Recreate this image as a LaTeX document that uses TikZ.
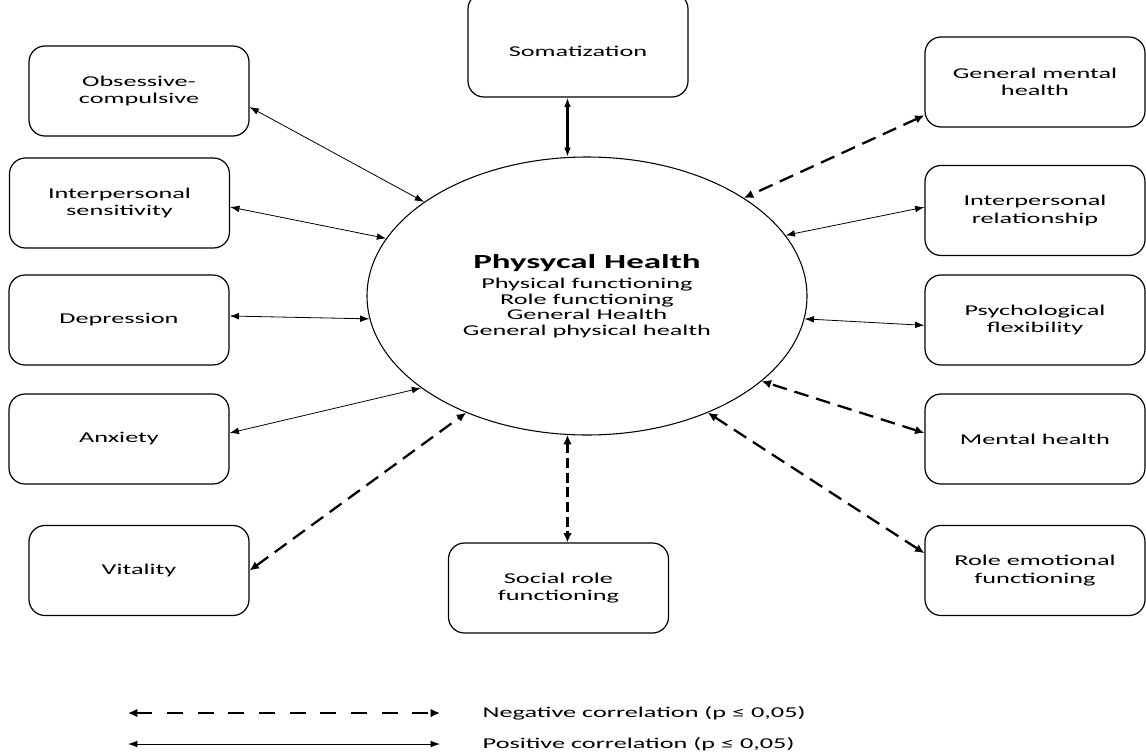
\documentclass[tikz,border=0pt]{standalone}
\usepackage{fontspec}
\setmainfont[FakeStretch=1.75]{Carlito}
\usetikzlibrary{shapes.geometric,arrows.meta}

\begin{document}
\begin{tikzpicture}[x=0.75pt, y=-0.75pt,
	font=\fontsize{11.25}{13}\selectfont,
	box/.style={draw, line width=0.9pt, rounded corners=12pt, minimum width=165pt, minimum height=67.5pt, align=center, inner sep=2pt},
	poscorr/.style={<->, >={Latex[length=7pt,width=5pt]}, line width=0.6pt},
	negcorr/.style={<->, >={Latex[length=7pt,width=6.5pt]}, line width=1.7pt, dash pattern=on 11pt off 6pt}]
	\useasboundingbox (0,0) rectangle (1146,753);
	\node[draw, ellipse, line width=0.8pt, minimum width=330pt, minimum height=208.5pt, inner sep=0pt, align=center, font=\fontsize{11.25}{11.8}\selectfont] (ph) at (587,296)
		{{\fontsize{15}{15}\selectfont\bfseries Physycal Health}\\[3.5pt]Physical functioning\\Role functioning\\General Health\\General physical health};
	\node[box] (obs) at (139,91) {Obsessive-\\compulsive};
	\node[box] (isens) at (119.5,203) {Interpersonal\\sensitivity};
	\node[box] (dep) at (119,320) {Depression};
	\node[box] (anx) at (119,439) {Anxiety};
	\node[box] (vit) at (139,570.5) {Vitality};
	\node[box, minimum height=78pt, text height=17.8pt] (som) at (578,45) {Somatization};
	\node[box] (soc) at (558.5,588) {Social role\\functioning};
	\node[box] (gmh) at (1035,82) {General mental\\health};
	\node[box] (irel) at (1035,210.5) {Interpersonal\\relationship};
	\node[box] (psy) at (1035,320) {Psychological\\flexibility};
	\node[box] (mh) at (1035,439) {Mental health};
	\node[box] (remo) at (1035,570.5) {Role emotional\\functioning};
	\draw[poscorr] ([yshift=-12pt]obs.east) -- (ph.150);
	\draw[poscorr] ([yshift=-3pt]isens.east) -- (ph.164);
	\draw[poscorr] ([yshift=3pt]dep.east) -- (ph.186);
	\draw[poscorr] ([yshift=4.5pt]anx.east) -- (ph.209);
	\draw[negcorr] (vit.east) -- (ph.224);
	\draw[negcorr, dash pattern=on 7.5pt off 3.5pt] (ph.262) -- (ph.262 |- soc.north);
	\draw[poscorr, line width=1.6pt] (ph.98) -- (ph.98 |- som.south);
	\draw[negcorr] ([yshift=-25pt]gmh.west) -- (ph.32);
	\draw[poscorr] ([yshift=2.5pt]irel.west) -- (ph.17);
	\draw[poscorr] ([yshift=-4pt]psy.west) -- (ph.-6);
	\draw[negcorr] ([yshift=4.5pt]mh.west) -- (ph.-26);
	\draw[negcorr] ([yshift=13pt]remo.west) -- (ph.-44);
	\coordinate (n1) at (128,713);
	\coordinate (n2) at (440,713);
	\draw[negcorr, dash pattern=on 12pt off 11pt] (n1) -- (n2);
	\node[anchor=west] (negtxt) at (478,713) {Negative correlation (p ≤ 0,05)};
	\coordinate (p1) at (128,744);
	\coordinate (p2) at (440,744);
	\draw[poscorr] (p1) -- (p2);
	\node[anchor=west] (postxt) at (478,744) {Positive correlation (p ≤ 0,05)};
\end{tikzpicture}
\end{document}
